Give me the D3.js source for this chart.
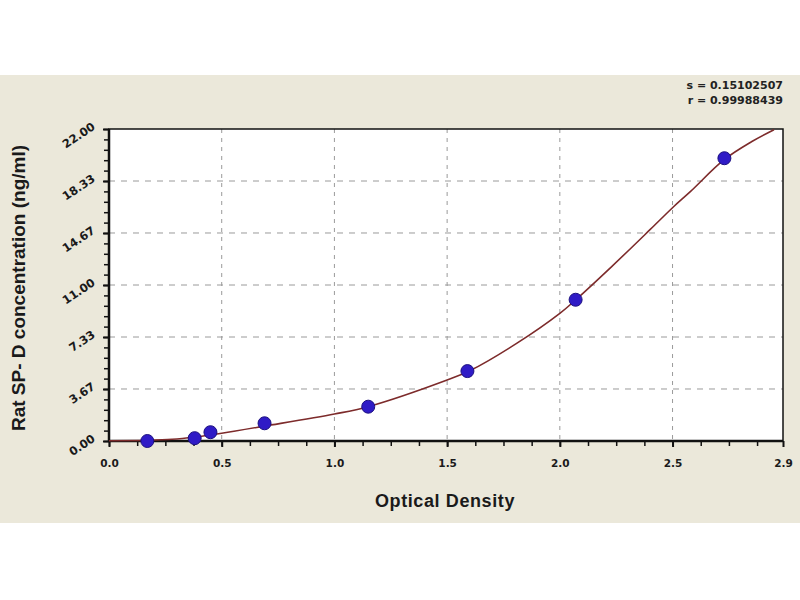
<!DOCTYPE html>
<html>
<head>
<meta charset="utf-8">
<script src="https://cdn.jsdelivr.net/npm/d3@7"></script>
<style>
  html, body { margin: 0; padding: 0; background: #ffffff; }
  svg { display: block; font-family: "Liberation Sans", Arial, sans-serif; }
</style>
</head>
<body>
<div id="chart"></div>
<script>
// Standard points (optical density vs concentration)
const standardOD = [0.17, 0.38, 0.45, 0.69, 1.15, 1.59, 2.07, 2.73];
const standardConc = [0.0, 0.2, 0.62, 1.25, 2.42, 4.93, 9.96, 19.94];

// Fitted curve
const curveOD = [0.0, 0.17, 0.28, 0.38, 0.5, 0.69, 1.0, 1.15, 1.5, 1.6, 1.81, 2.0, 2.07, 2.23, 2.4, 2.5, 2.58, 2.73, 2.85, 2.95];
const curveConc = [0.02, 0.05, 0.12, 0.28, 0.55, 1.05, 1.9, 2.42, 4.3, 4.95, 6.9, 9.0, 9.95, 12.3, 14.9, 16.45, 17.6, 19.85, 21.1, 21.95];

// Axis ticks
const xTickValues = [0, 0.5, 1.0, 1.5, 2.0, 2.5, 2.99];
const xTickLabels = ["0.0", "0.5", "1.0", "1.5", "2.0", "2.5", "2.9"];
const yTickValues = [0, 3.667, 7.333, 11, 14.667, 18.333, 22];
const yTickLabels = ["0.00", "3.67", "7.33", "11.00", "14.67", "18.33", "22.00"];

const statLines = ["s = 0.15102507", "r = 0.99988439"];

const W = 800, H = 600;
const svg = d3.select("#chart").append("svg")
  .attr("width", W)
  .attr("height", H);

// beige panel
svg.append("rect")
  .attr("x", 0).attr("y", 75)
  .attr("width", W).attr("height", 448)
  .attr("fill", "#ebe8da");

const plot = {left: 109, right: 783, top: 129, bottom: 441};

const x = d3.scaleLinear()
  .domain([0, 2.99])
  .range([plot.left, plot.right]);

const y = d3.scaleLinear()
  .domain([0, 22])
  .range([plot.bottom, plot.top]);

// white plot area
svg.append("rect")
  .attr("x", plot.left).attr("y", plot.top)
  .attr("width", plot.right - plot.left)
  .attr("height", plot.bottom - plot.top)
  .attr("fill", "#ffffff");

// grid
svg.append("g")
  .selectAll("line")
  .data(xTickValues.slice(1, -1))
  .join("line")
  .attr("x1", d => x(d)).attr("x2", d => x(d))
  .attr("y1", plot.top).attr("y2", plot.bottom)
  .attr("stroke", "#9a9a9a")
  .attr("stroke-width", 1)
  .attr("stroke-dasharray", "4,5");

svg.append("g")
  .selectAll("line")
  .data(yTickValues.slice(1, -1))
  .join("line")
  .attr("x1", plot.left).attr("x2", plot.right)
  .attr("y1", d => y(d)).attr("y2", d => y(d))
  .attr("stroke", "#9a9a9a")
  .attr("stroke-width", 1)
  .attr("stroke-dasharray", "6,6");

// minor ticks
const xMinor = d3.range(0, 2.99, 0.125);
const yMinor = d3.range(0, 22.01, 22 / 30);

svg.append("g")
  .attr("transform", `translate(0, ${plot.bottom})`)
  .call(d3.axisBottom(x).tickValues(xMinor).tickSize(5).tickFormat(""))
  .call(g => g.select(".domain").remove())
  .selectAll("line").attr("stroke-width", 1.5).attr("stroke", "#111");

svg.append("g")
  .attr("transform", `translate(${plot.left}, 0)`)
  .call(d3.axisLeft(y).tickValues(yMinor).tickSize(5).tickFormat(""))
  .call(g => g.select(".domain").remove())
  .selectAll("line").attr("stroke-width", 1.5).attr("stroke", "#111");

// major axes
const xAxis = svg.append("g")
  .attr("transform", `translate(0, ${plot.bottom})`)
  .call(d3.axisBottom(x).tickValues(xTickValues).tickSize(6)
    .tickFormat((d, i) => xTickLabels[i]));
xAxis.select(".domain").remove();
xAxis.selectAll("line").attr("stroke-width", 2).attr("stroke", "#111");
xAxis.selectAll("text")
  .attr("y", 19)
  .attr("fill", "#1a1a1a")
  .style("font-family", "'DejaVu Sans', Verdana, sans-serif")
  .style("font-size", "10.5px")
  .style("font-weight", "bold");

const yAxis = svg.append("g")
  .attr("transform", `translate(${plot.left}, 0)`)
  .call(d3.axisLeft(y).tickValues(yTickValues).tickSize(6)
    .tickFormat((d, i) => yTickLabels[i]));
yAxis.select(".domain").remove();
yAxis.selectAll("line").attr("stroke-width", 2).attr("stroke", "#111");
yAxis.selectAll("text")
  .attr("x", null).attr("dy", null)
  .attr("text-anchor", "end")
  .attr("transform", "translate(-13, -1) rotate(-34)")
  .attr("fill", "#1a1a1a")
  .style("font-family", "'DejaVu Sans', Verdana, sans-serif")
  .style("font-size", "11.5px")
  .style("font-weight", "bold");

// frame
svg.append("rect")
  .attr("x", plot.left).attr("y", plot.top)
  .attr("width", plot.right - plot.left)
  .attr("height", plot.bottom - plot.top)
  .attr("fill", "none")
  .attr("stroke", "#111")
  .attr("stroke-width", 1.5);

svg.append("line")
  .attr("x1", plot.left).attr("x2", plot.right)
  .attr("y1", plot.bottom).attr("y2", plot.bottom)
  .attr("stroke", "#111").attr("stroke-width", 2.5);
svg.append("line")
  .attr("x1", plot.left).attr("x2", plot.left)
  .attr("y1", plot.top).attr("y2", plot.bottom)
  .attr("stroke", "#111").attr("stroke-width", 2.5);

// fitted curve
const curveData = curveOD.map((d, i) => ({od: d, conc: curveConc[i]}));
const line = d3.line()
  .x(d => x(d.od))
  .y(d => y(d.conc))
  .curve(d3.curveCatmullRom.alpha(0.5));

svg.append("path")
  .datum(curveData)
  .attr("d", line)
  .attr("fill", "none")
  .attr("stroke", "#7d2b2b")
  .attr("stroke-width", 1.6);

// standards
const pts = standardOD.map((d, i) => ({od: d, conc: standardConc[i]}));
svg.append("g")
  .selectAll("circle")
  .data(pts)
  .join("circle")
  .attr("cx", d => x(d.od))
  .attr("cy", d => y(d.conc))
  .attr("r", 6.5)
  .attr("fill", "#2f1bc6")
  .attr("stroke", "#1c1080")
  .attr("stroke-width", 1);

// axis titles
svg.append("text")
  .attr("x", 445)
  .attr("y", 507)
  .attr("text-anchor", "middle")
  .attr("fill", "#1a1a1a")
  .style("font-size", "18px")
  .style("font-weight", "bold")
  .style("letter-spacing", "0.6px")
  .text("Optical Density");

svg.append("text")
  .attr("transform", "rotate(-90)")
  .attr("x", -288)
  .attr("y", 25)
  .attr("text-anchor", "middle")
  .attr("fill", "#1a1a1a")
  .style("font-size", "19px")
  .style("font-weight", "bold")
  .text("Rat SP- D concentration (ng/ml)");

// fit statistics
svg.append("g")
  .selectAll("text")
  .data(statLines)
  .join("text")
  .attr("x", 783)
  .attr("y", (d, i) => 89 + i * 15)
  .attr("text-anchor", "end")
  .attr("fill", "#222")
  .style("font-family", "'DejaVu Sans', Verdana, sans-serif")
  .style("font-size", "11px")
  .style("font-weight", "bold")
  .text(d => d);
</script>
</body>
</html>
